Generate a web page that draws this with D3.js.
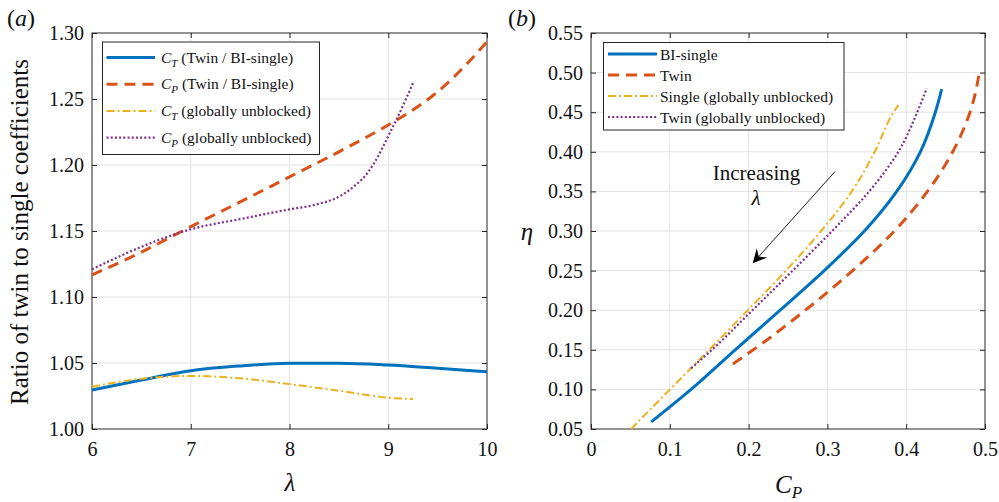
<!DOCTYPE html>
<html><head><meta charset="utf-8">
<script src="https://cdn.jsdelivr.net/npm/d3@7"></script>
<style>
body{margin:0;background:#fff;}
svg{display:block;font-family:"Liberation Serif","Times New Roman","DejaVu Serif",serif;}
</style></head><body>
<svg id="chart" width="999" height="502"></svg>
<script>
// ---------- Panel (a) data ----------
const lamCTBI = [6, 6.5, 7, 7.5, 8, 8.5, 9, 9.5, 10];
const ctTwinBI = [1.0295, 1.0371, 1.0442, 1.0478, 1.0498, 1.0499, 1.0485, 1.0460, 1.0434];
const lamCPBI = [6, 6.5, 7, 7.5, 8, 8.5, 9, 9.25, 9.5, 9.75, 10];
const cpTwinBI = [1.1167, 1.134, 1.1533, 1.172, 1.191, 1.210, 1.2303, 1.2417, 1.2555, 1.273, 1.2934];
const lamCTGU = [6, 6.5, 7, 7.5, 8, 8.5, 9, 9.25];
const ctGU = [1.032, 1.0381, 1.0402, 1.0384, 1.034, 1.029, 1.0237, 1.0227];
const lamCPGU = [6, 6.5, 7, 7.5, 8, 8.25, 8.5, 8.65, 8.8, 8.9, 9, 9.1, 9.25];
const cpGU = [1.121, 1.138, 1.1513, 1.159, 1.1664, 1.1697, 1.176, 1.1836, 1.195, 1.207, 1.222, 1.237, 1.262];
const xTicksA = [6, 7, 8, 9, 10];
const yTicksA = [1.00, 1.05, 1.10, 1.15, 1.20, 1.25, 1.30];
const legendA = [["C", "T", " (Twin / BI-single)"], ["C", "P", " (Twin / BI-single)"],
                 ["C", "T", " (globally unblocked)"], ["C", "P", " (globally unblocked)"]];

// ---------- Panel (b) data ----------
const cpBI = [0.0765, 0.127, 0.183, 0.240, 0.296, 0.347, 0.388, 0.418, 0.437, 0.445];
const etaBI = [0.059, 0.10, 0.15, 0.20, 0.25, 0.30, 0.35, 0.40, 0.45, 0.479];
const cpTwin = [0.180, 0.206, 0.272, 0.332, 0.385, 0.427, 0.459, 0.481, 0.4937];
const etaTwin = [0.132, 0.15, 0.20, 0.25, 0.30, 0.35, 0.40, 0.45, 0.505];
const cpSingleGU = [0.0508, 0.1003, 0.150, 0.199, 0.2475, 0.292, 0.331, 0.360, 0.384, 0.390];
const etaSingleGU = [0.05, 0.10, 0.15, 0.20, 0.25, 0.30, 0.35, 0.40, 0.45, 0.459];
const cpTwinGU = [0.127, 0.1535, 0.205, 0.256, 0.306, 0.353, 0.390, 0.414, 0.426];
const etaTwinGU = [0.1266, 0.15, 0.20, 0.25, 0.30, 0.35, 0.40, 0.45, 0.480];
const xTicksB = [0, 0.1, 0.2, 0.3, 0.4, 0.5];
const yTicksB = [0.05, 0.10, 0.15, 0.20, 0.25, 0.30, 0.35, 0.40, 0.45, 0.50, 0.55];
const legendB = ["BI-single", "Twin", "Single (globally unblocked)", "Twin (globally unblocked)"];
const arrowFrom = [0.3096, 0.375];
const arrowTo = [0.2052, 0.2592];

// ---------- styles ----------
const FONT = '"Liberation Serif","Times New Roman","DejaVu Serif",serif';
const colors = ["#0072BD", "#D95319", "#EDB120", "#7E2F8E"];
const widths = [3, 3, 2, 2.2];
const dashes = [null, "11,7", "8,3,2,3", "2,2.2"];
const axisColor = "#262626";
const gridColor = "#e3e3e3";

const svg = d3.select("#chart");

function makePanel(cfg) {
  const g = svg.append("g");
  const x = d3.scaleLinear().domain(cfg.xDomain).range([cfg.left, cfg.right]);
  const y = d3.scaleLinear().domain(cfg.yDomain).range([cfg.bottom, cfg.top]);
  g.append("g").selectAll("line").data(cfg.xTicks.slice(1, -1)).join("line")
    .attr("x1", d => x(d)).attr("x2", d => x(d)).attr("y1", cfg.top).attr("y2", cfg.bottom)
    .attr("stroke", gridColor).attr("stroke-width", 1);
  g.append("g").selectAll("line").data(cfg.yTicks.slice(1, -1)).join("line")
    .attr("y1", d => y(d)).attr("y2", d => y(d)).attr("x1", cfg.left).attr("x2", cfg.right)
    .attr("stroke", gridColor).attr("stroke-width", 1);
  const ax = [
    [d3.axisBottom(x).tickValues(cfg.xTicks).tickFormat(cfg.xFmt), `translate(0,${cfg.bottom})`],
    [d3.axisTop(x).tickValues(cfg.xTicks).tickFormat(""), `translate(0,${cfg.top})`],
    [d3.axisLeft(y).tickValues(cfg.yTicks).tickFormat(cfg.yFmt), `translate(${cfg.left},0)`],
    [d3.axisRight(y).tickValues(cfg.yTicks).tickFormat(""), `translate(${cfg.right},0)`]
  ];
  ax.forEach(([a, tr], i) => {
    const ag = g.append("g").attr("transform", tr)
      .call(a.tickSizeInner(-5).tickSizeOuter(0).tickPadding(i === 0 ? 13 : 8));
    ag.attr("font-family", FONT);
    ag.select(".domain").remove();
    ag.selectAll(".tick line").attr("stroke", axisColor);
    ag.selectAll("text").attr("font-size", 20).attr("fill", "#111");
  });
  g.append("rect").attr("x", cfg.left).attr("y", cfg.top)
    .attr("width", cfg.right - cfg.left).attr("height", cfg.bottom - cfg.top)
    .attr("fill", "none").attr("stroke", axisColor).attr("stroke-width", 1);
  return {g, x, y};
}

// ---------- Panel (a) ----------
const A = makePanel({left: 92, right: 487, top: 33, bottom: 429,
  xDomain: [6, 10], yDomain: [1.0, 1.3], xTicks: xTicksA, yTicks: yTicksA,
  xFmt: d3.format("d"), yFmt: d3.format(".2f")});
const seriesA = [[lamCTBI, ctTwinBI], [lamCPBI, cpTwinBI], [lamCTGU, ctGU], [lamCPGU, cpGU]];
seriesA.forEach(([xs, ys], i) => {
  const line = d3.line().x((d, k) => A.x(xs[k])).y(d => A.y(d)).curve(d3.curveMonotoneX);
  A.g.append("path").attr("d", line(ys)).attr("fill", "none")
    .attr("stroke", colors[i]).attr("stroke-width", widths[i])
    .attr("stroke-dasharray", dashes[i]);
});
const legA = A.g.append("g");
legA.append("rect").attr("x", 102.5).attr("y", 42).attr("width", 217).attr("height", 112.5)
  .attr("fill", "#fff").attr("stroke", axisColor).attr("stroke-width", 1);
legendA.forEach((lab, i) => {
  const yy = 57.5 + i * 26.7;
  legA.append("line").attr("x1", 106.5).attr("x2", 155).attr("y1", yy).attr("y2", yy)
    .attr("stroke", colors[i]).attr("stroke-width", widths[i]).attr("stroke-dasharray", dashes[i]);
  const t = legA.append("text").attr("x", 161).attr("y", yy + 5).attr("font-size", 15.5).attr("fill", "#111");
  t.append("tspan").attr("font-style", "italic").text(lab[0]);
  t.append("tspan").attr("font-style", "italic").attr("font-size", 11).attr("dy", 4).text(lab[1]);
  t.append("tspan").attr("dy", -4).text(lab[2]);
});
svg.append("text").attr("x", 7).attr("y", 26).attr("font-size", 24).attr("fill", "#111")
  .html('(<tspan font-style="italic">a</tspan>)');
svg.append("text").attr("transform", "translate(28,232) rotate(-90)").attr("text-anchor", "middle")
  .attr("font-size", 25).attr("fill", "#111").text("Ratio of twin to single coefficients");
svg.append("text").attr("x", 290).attr("y", 491).attr("text-anchor", "middle")
  .attr("font-size", 25).attr("font-style", "italic").attr("fill", "#111").text("λ");

// ---------- Panel (b) ----------
const B = makePanel({left: 591, right: 985, top: 33, bottom: 429,
  xDomain: [0, 0.5], yDomain: [0.05, 0.55], xTicks: xTicksB, yTicks: yTicksB,
  xFmt: d => d === 0 ? "0" : d3.format(".1f")(d), yFmt: d3.format(".2f")});
const seriesB = [[cpBI, etaBI], [cpTwin, etaTwin], [cpSingleGU, etaSingleGU], [cpTwinGU, etaTwinGU]];
seriesB.forEach(([xs, ys], i) => {
  const line = d3.line().x(d => B.x(d)).y((d, k) => B.y(ys[k])).curve(d3.curveMonotoneY);
  B.g.append("path").attr("d", line(xs)).attr("fill", "none")
    .attr("stroke", colors[i]).attr("stroke-width", widths[i])
    .attr("stroke-dasharray", dashes[i]);
});
{
  const x1 = B.x(arrowFrom[0]), y1 = B.y(arrowFrom[1]);
  const x2 = B.x(arrowTo[0]), y2 = B.y(arrowTo[1]);
  const ang = Math.atan2(y2 - y1, x2 - x1);
  const L = 14, W = 7, N = 9;
  const ux = Math.cos(ang), uy = Math.sin(ang), px = -uy, py = ux;
  B.g.append("line").attr("x1", x1).attr("y1", y1).attr("x2", x2 - ux * N).attr("y2", y2 - uy * N)
    .attr("stroke", "#000").attr("stroke-width", 0.9);
  const pts = [[x2, y2], [x2 - ux * L + px * W, y2 - uy * L + py * W], [x2 - ux * N, y2 - uy * N],
               [x2 - ux * L - px * W, y2 - uy * L - py * W]];
  B.g.append("path").attr("d", "M" + pts.map(p => p.join(",")).join("L") + "Z").attr("fill", "#000");
}
B.g.append("text").attr("x", 756.5).attr("y", 180).attr("text-anchor", "middle")
  .attr("font-size", 21).attr("fill", "#111").text("Increasing");
B.g.append("text").attr("x", 756).attr("y", 205).attr("text-anchor", "middle")
  .attr("font-size", 21).attr("font-style", "italic").attr("fill", "#111").text("λ");
const legB = B.g.append("g");
legB.append("rect").attr("x", 603.5).attr("y", 42.5).attr("width", 240.5).attr("height", 87.5)
  .attr("fill", "#fff").attr("stroke", axisColor).attr("stroke-width", 1);
legendB.forEach((lab, i) => {
  const yy = 54 + i * 21;
  legB.append("line").attr("x1", 608).attr("x2", 657).attr("y1", yy).attr("y2", yy)
    .attr("stroke", colors[i]).attr("stroke-width", widths[i]).attr("stroke-dasharray", dashes[i]);
  legB.append("text").attr("x", 660).attr("y", yy + 6).attr("font-size", 15.5).attr("fill", "#111").text(lab);
});
svg.append("text").attr("x", 508).attr("y", 26).attr("font-size", 24).attr("fill", "#111")
  .html('(<tspan font-style="italic">b</tspan>)');
svg.append("text").attr("x", 527).attr("y", 240).attr("text-anchor", "middle")
  .attr("font-size", 25).attr("font-style", "italic").attr("fill", "#111").text("η");
{
  const t = svg.append("text").attr("x", 775).attr("y", 493).attr("font-size", 25).attr("fill", "#111");
  t.append("tspan").attr("font-style", "italic").text("C");
  t.append("tspan").attr("font-style", "italic").attr("font-size", 17).attr("dy", 5).text("P");
}
svg.selectAll("text").attr("font-family", FONT);
</script>
</body></html>
